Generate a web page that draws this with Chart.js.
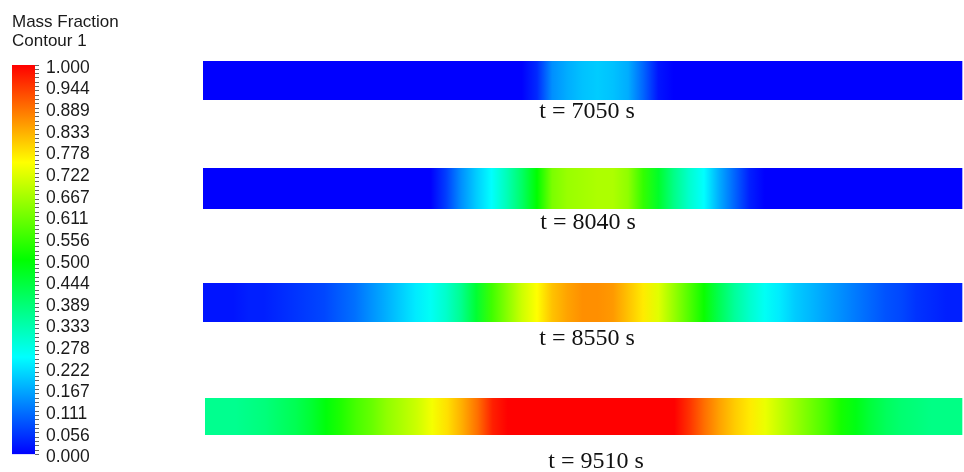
<!DOCTYPE html>
<html>
<head>
<meta charset="utf-8">
<title>Mass Fraction Contour</title>
<script src="https://cdn.jsdelivr.net/npm/chart.js@4.4.1/dist/chart.umd.min.js"></script>
<style>
  html, body { margin: 0; padding: 0; background: #ffffff; width: 964px; height: 472px; overflow: hidden; position: relative; }
  canvas { position: absolute; display: block; }
</style>
</head>
<body>
<canvas id="legend" width="140" height="472" style="left:0;top:0"></canvas>
<canvas id="band0"></canvas>
<canvas id="band1"></canvas>
<canvas id="band2"></canvas>
<canvas id="band3"></canvas>
<script>
// Axial position along the pipe (% of length) of each sample
const positions = [0, 2, 4, 6, 8, 10, 12, 14, 16, 18, 20, 22, 24, 26, 28, 30, 32, 34, 36, 38,
  40, 42, 44, 46, 48, 50, 52, 54, 56, 58, 60, 62, 64, 66, 68, 70, 72, 74, 76, 78,
  80, 82, 84, 86, 88, 90, 92, 94, 96, 98, 100];

const timeLabels = ['t = 7050 s', 't = 8040 s', 't = 8550 s', 't = 9510 s'];

// Mass fraction at each position, one array per time
const fraction7050 = [0, 0, 0, 0, 0, 0, 0, 0, 0, 0, 0, 0, 0, 0, 0, 0, 0, 0, 0, 0,
  0, 0, 0.04, 0.14, 0.17, 0.19, 0.20, 0.19, 0.17, 0.10, 0.02, 0, 0, 0, 0, 0, 0, 0, 0, 0,
  0, 0, 0, 0, 0, 0, 0, 0, 0, 0, 0];
const fraction8040 = [0, 0, 0, 0, 0, 0, 0, 0, 0, 0, 0, 0, 0, 0, 0, 0, 0.06, 0.14, 0.20, 0.25,
  0.32, 0.40, 0.50, 0.62, 0.65, 0.66, 0.67, 0.67, 0.64, 0.55, 0.46, 0.37, 0.30, 0.25, 0.17, 0.10, 0.03, 0, 0, 0,
  0, 0, 0, 0, 0, 0, 0, 0, 0, 0, 0];
const fraction8550 = [0.02, 0.02, 0.02, 0.03, 0.03, 0.04, 0.05, 0.06, 0.07, 0.09, 0.11, 0.14, 0.17, 0.20, 0.23, 0.26, 0.30, 0.36, 0.45, 0.56,
  0.63, 0.70, 0.75, 0.81, 0.84, 0.86, 0.86, 0.85, 0.81, 0.77, 0.72, 0.65, 0.58, 0.51, 0.42, 0.35, 0.30, 0.26, 0.23, 0.20,
  0.18, 0.16, 0.14, 0.12, 0.10, 0.08, 0.07, 0.05, 0.04, 0.03, 0.03];
const fraction9510 = [0.36, 0.36, 0.36, 0.37, 0.38, 0.40, 0.42, 0.45, 0.49, 0.53, 0.57, 0.60, 0.64, 0.67, 0.70, 0.74, 0.78, 0.83, 0.89, 0.97,
  1.00, 1.00, 1.00, 1.00, 1.00, 1.00, 1.00, 1.00, 1.00, 1.00, 1.00, 1.00, 0.95, 0.89, 0.84, 0.80, 0.77, 0.73, 0.69, 0.65,
  0.61, 0.57, 0.52, 0.48, 0.44, 0.41, 0.39, 0.38, 0.37, 0.37, 0.37];

const series = [fraction7050, fraction8040, fraction8550, fraction9510];

// Colour legend labels, bottom to top
const colorbarTicks = ['0.000', '0.056', '0.111', '0.167', '0.222', '0.278', '0.333', '0.389', '0.444', '0.500',
  '0.556', '0.611', '0.667', '0.722', '0.778', '0.833', '0.889', '0.944', '1.000'];
const minorPerStep = 5;

// Rainbow colour map: blue -> cyan -> green -> yellow -> red
const RAINBOW = [
  [0.00, [0, 0, 255]],
  [0.25, [0, 255, 255]],
  [0.50, [0, 255, 0]],
  [0.75, [255, 255, 0]],
  [1.00, [255, 0, 0]]
];

function colorAt(v) {
  v = Math.max(0, Math.min(1, v));
  for (let i = 1; i < RAINBOW.length; i++) {
    const [v1, c1] = RAINBOW[i];
    const [v0, c0] = RAINBOW[i - 1];
    if (v <= v1) {
      const t = (v - v0) / (v1 - v0);
      const c = c0.map((a, k) => Math.round(a + (c1[k] - a) * t));
      return `rgb(${c[0]},${c[1]},${c[2]})`;
    }
  }
  return 'rgb(255,0,0)';
}

// Horizontal gradient across a band, stops placed by the x scale
function bandFill(values) {
  return (ctx) => {
    const chart = ctx.chart;
    const xs = chart.scales.x;
    if (!chart.chartArea || !xs) return colorAt(values[0]);
    const x0 = xs.getPixelForValue(positions[0]);
    const x1 = xs.getPixelForValue(positions[positions.length - 1]);
    const g = chart.ctx.createLinearGradient(x0, 0, x1, 0);
    positions.forEach((p, i) => {
      g.addColorStop((xs.getPixelForValue(p) - x0) / (x1 - x0), colorAt(values[i]));
    });
    return g;
  };
}

// Vertical gradient for the colour legend
function colorbarFill(ctx) {
  const chart = ctx.chart;
  const ys = chart.scales.y;
  if (!chart.chartArea || !ys) return colorAt(0.5);
  const y0 = ys.getPixelForValue(0);
  const y1 = ys.getPixelForValue(1);
  const g = chart.ctx.createLinearGradient(0, y0, 0, y1);
  RAINBOW.forEach(([v]) => g.addColorStop(v, colorAt(v)));
  return g;
}

// Colour legend with title
new Chart(document.getElementById('legend'), {
  type: 'bar',
  data: {
    labels: ['Mass Fraction'],
    datasets: [{
      data: [[0, 1]],
      backgroundColor: colorbarFill,
      borderWidth: 0,
      barPercentage: 1,
      categoryPercentage: 1
    }]
  },
  options: {
    responsive: false,
    animation: false,
    events: [],
    layout: { padding: { left: 12, right: 0, top: 0, bottom: 17 } },
    scales: {
      x: { display: false },
      y: {
        type: 'linear',
        position: 'right',
        min: 0,
        max: 1,
        afterBuildTicks(scale) {
          const n = (colorbarTicks.length - 1) * minorPerStep;
          const ticks = [];
          for (let j = 0; j <= n; j++) ticks.push({ value: j / n });
          scale.ticks = ticks;
        },
        afterFit(scale) { scale.width = 105; },
        grid: { display: true, drawOnChartArea: false, drawTicks: true, tickLength: 4, color: '#666', lineWidth: 1 },
        border: { display: false },
        ticks: {
          autoSkip: false,
          padding: 7,
          labelOffset: 3,
          color: '#1a1a1a',
          font: { family: '"Liberation Sans", Arial, sans-serif', size: 17.5 },
          callback: (v, i) => (i % minorPerStep === 0 ? colorbarTicks[i / minorPerStep] : '')
        }
      }
    },
    plugins: {
      legend: { display: false },
      tooltip: { enabled: false },
      title: {
        display: true,
        text: ['Mass Fraction', 'Contour 1'],
        align: 'start',
        color: '#1a1a1a',
        font: { family: '"Liberation Sans", Arial, sans-serif', size: 17, weight: 'normal', lineHeight: '18.5px' },
        padding: { top: 13.25, bottom: 14.75 }
      }
    }
  }
});

// Placement of each band and its caption
const bandLayout = [
  { left: 203, top: 61, barH: 39, barLen: 759, labelX: 587, labelPad: 2 },
  { left: 203, top: 168, barH: 41, barLen: 759, labelX: 588, labelPad: 4 },
  { left: 203, top: 283, barH: 39, barLen: 759, labelX: 587, labelPad: 7 },
  { left: 205, top: 398, barH: 37, barLen: 757, labelX: 596, labelPad: 17 }
];
const captionLine = 20;

series.forEach((values, i) => {
  const L = bandLayout[i];
  const el = document.getElementById('band' + i);
  const w = Math.round(2 * (L.labelX - L.left));
  el.width = w;
  el.height = L.barH + L.labelPad + captionLine + 4;
  el.style.left = L.left + 'px';
  el.style.top = L.top + 'px';
  const xMax = positions[positions.length - 1] * w / L.barLen;

  new Chart(el, {
    type: 'bar',
    data: {
      labels: [timeLabels[i]],
      datasets: [{
        data: [[positions[0], positions[positions.length - 1]]],
        backgroundColor: bandFill(values),
        borderWidth: 0,
        borderSkipped: false,
        barPercentage: 1,
        categoryPercentage: 1
      }]
    },
    options: {
      indexAxis: 'y',
      responsive: false,
      animation: false,
      events: [],
      layout: { padding: 0 },
      scales: {
        x: { type: 'linear', min: 0, max: xMax, display: false },
        y: { display: false }
      },
      plugins: {
        legend: { display: false },
        tooltip: { enabled: false },
        title: {
          display: true,
          text: timeLabels[i],
          position: 'bottom',
          align: 'center',
          color: '#111',
          font: { family: '"Liberation Serif", "Times New Roman", serif', size: 24, weight: 'normal', lineHeight: captionLine + 'px' },
          padding: { top: L.labelPad, bottom: 4 }
        }
      }
    }
  });
});
</script>
</body>
</html>
